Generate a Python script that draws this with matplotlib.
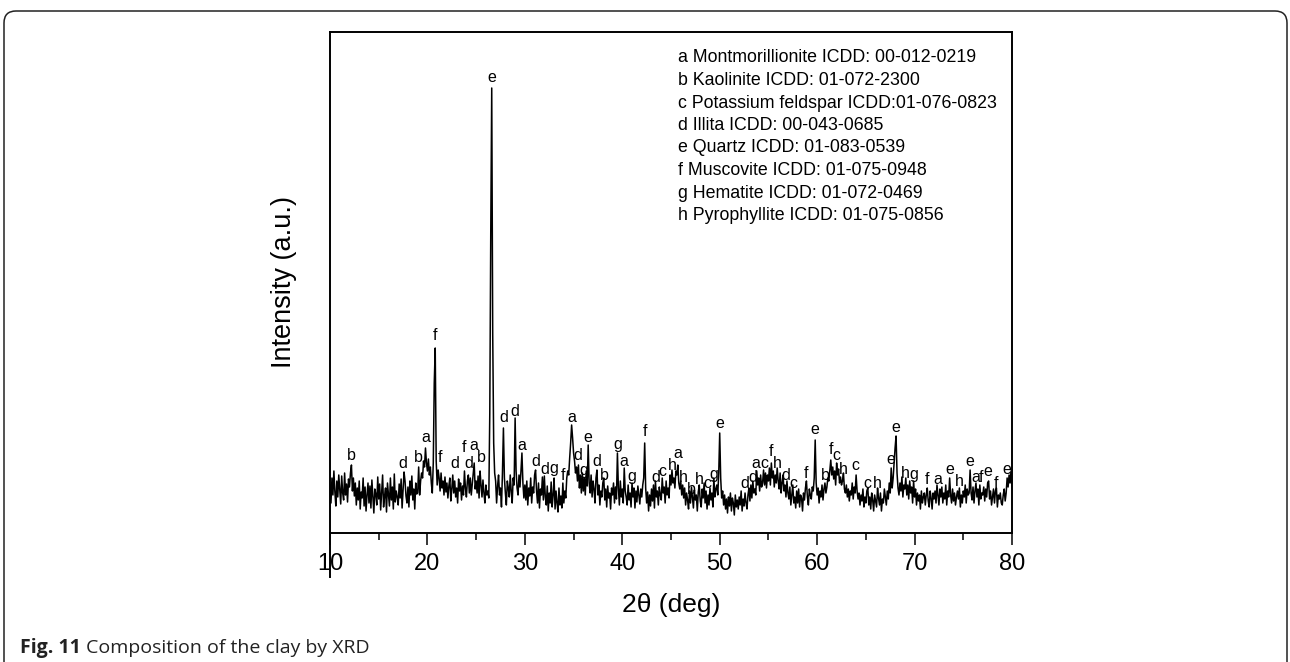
import matplotlib
matplotlib.use("Agg")
import matplotlib.pyplot as plt
from matplotlib.patches import FancyBboxPatch
import numpy as np

plt.rcParams['font.family'] = ['Liberation Sans', 'DejaVu Sans']

# 2theta from 10.0 to 80.0 in 0.1 deg steps, intensity (a.u.)
two_theta = np.round(np.arange(100, 801) / 10.0, 1)
intensity = [
    48, 30, 55, 38, 62, 41, 27, 52, 36, 58,      # 10
    44, 29, 57, 40, 33, 60, 38, 49, 31, 54,      # 11
    46, 60, 68, 42, 55, 37, 50, 28, 45, 33,      # 12
    52, 24, 41, 35, 55, 27, 46, 22, 38, 50,      # 13
    30, 47, 25, 53, 36, 20, 44, 39, 28, 56,      # 14
    34, 49, 23, 40, 58, 26, 37, 45, 21, 50,      # 15
    38, 27, 55, 33, 46, 24, 59, 31, 42, 36,      # 16
    28, 49, 35, 54, 25, 43, 61, 52, 37, 30,      # 17
    46, 26, 52, 38, 57, 33, 44, 24, 50, 39,      # 18
    40, 66, 38, 52, 60, 55, 72, 66, 85, 70,      # 19
    62, 74, 58, 66, 50, 40, 70, 150, 185, 72,    # 20
    48, 63, 55, 42, 60, 45, 52, 38, 56, 41,      # 21
    50, 35, 47, 55, 32, 44, 58, 40, 52, 36,      # 22
    45, 30, 54, 42, 50, 33, 47, 38, 62, 45,      # 23
    36, 52, 58, 40, 55, 38, 49, 60, 70, 44,      # 24
    52, 40, 57, 35, 62, 48, 36, 53, 40, 30,      # 25
    48, 38, 42, 35, 120, 300, 445, 200, 90, 60,  # 26
    52, 30, 47, 58, 38, 45, 26, 60, 105, 55,     # 27
    40, 28, 52, 45, 36, 58, 42, 30, 55, 48,      # 28
    115, 62, 45, 38, 58, 46, 62, 80, 50, 35,     # 29
    48, 33, 52, 28, 45, 37, 55, 30, 46, 40,      # 30
    58, 63, 42, 30, 50, 25, 44, 38, 56, 33,      # 31
    57, 36, 28, 47, 22, 40, 30, 51, 26, 38,      # 32
    55, 24, 42, 30, 21, 45, 28, 37, 25, 50,      # 33
    30, 42, 35, 55, 62, 58, 75, 90, 108, 95,     # 34
    80, 72, 60, 66, 52, 68, 45, 58, 40, 60,      # 35
    42, 55, 38, 62, 47, 88, 50, 40, 58, 36,      # 36
    52, 44, 30, 55, 63, 38, 48, 28, 42, 36,      # 37
    50, 55, 33, 44, 26, 47, 35, 40, 24, 45,      # 38
    38, 50, 30, 46, 34, 80, 45, 28, 52, 36,      # 39
    44, 30, 65, 42, 36, 28, 48, 33, 40, 26,      # 40
    50, 36, 45, 25, 42, 31, 47, 38, 29, 44,      # 41
    36, 48, 55, 90, 45, 30, 41, 22, 38, 27,      # 42
    44, 32, 48, 25, 52, 36, 42, 28, 46, 38,      # 43
    33, 55, 40, 46, 30, 52, 38, 45, 35, 58,      # 44
    48, 63, 50, 55, 45, 62, 58, 68, 50, 44,      # 45
    52, 38, 48, 35, 45, 28, 40, 33, 24, 42,      # 46
    30, 46, 36, 25, 43, 33, 38, 22, 41, 48,      # 47
    32, 26, 44, 35, 50, 30, 42, 24, 38, 28,      # 48
    45, 33, 40, 26, 55, 36, 44, 48, 38, 60,      # 49
    100, 55, 35, 42, 28, 38, 24, 34, 20, 36,     # 50
    27, 40, 22, 35, 30, 18, 38, 26, 33, 24,      # 51
    36, 28, 42, 22, 34, 27, 40, 30, 24, 38,      # 52
    45, 32, 48, 35, 52, 40, 44, 38, 62, 48,      # 53
    55, 42, 58, 46, 50, 63, 48, 60, 45, 58,      # 54
    52, 65, 48, 70, 55, 62, 46, 58, 50, 65,      # 55
    52, 44, 60, 40, 50, 58, 42, 48, 36, 52,      # 56
    40, 34, 46, 28, 38, 48, 30, 36, 25, 42,      # 57
    30, 44, 26, 38, 35, 22, 40, 33, 45, 52,      # 58
    36, 28, 44, 38, 34, 46, 42, 55, 93, 50,      # 59
    38, 45, 30, 42, 36, 48, 33, 44, 50, 40,      # 60
    46, 55, 52, 62, 73, 58, 66, 54, 62, 48,      # 61
    70, 58, 64, 50, 56, 48, 52, 60, 44, 40,      # 62
    48, 36, 44, 32, 42, 38, 50, 34, 46, 40,      # 63
    58, 42, 34, 40, 28, 38, 32, 44, 26, 36,      # 64
    30, 42, 45, 28, 36, 24, 40, 33, 22, 38,      # 65
    32, 26, 45, 35, 28, 40, 22, 34, 30, 44,      # 66
    36, 28, 42, 34, 50, 40, 65, 45, 55, 70,      # 67
    85, 97, 60, 45, 38, 50, 42, 56, 36, 48,      # 68
    44, 55, 38, 48, 34, 52, 40, 46, 30, 52,      # 69
    36, 44, 28, 40, 32, 38, 24, 42, 30, 36,      # 70
    40, 28, 38, 45, 32, 26, 42, 35, 24, 40,      # 71
    34, 42, 30, 48, 38, 28, 44, 36, 46, 30,      # 72
    40, 34, 48, 28, 42, 36, 55, 38, 30, 44,      # 73
    32, 40, 28, 36, 42, 34, 45, 26, 38, 30,      # 74
    42, 36, 48, 30, 44, 38, 40, 63, 40, 33,      # 75
    46, 30, 42, 50, 36, 44, 28, 48, 34, 40,      # 76
    38, 46, 32, 44, 36, 50, 52, 34, 42, 28,      # 77
    36, 44, 30, 42, 45, 26, 38, 34, 40, 30,      # 78
    28, 38, 44, 32, 40, 55, 46, 58, 50, 62,      # 79
    45,                                          # 80
]

# phase letters over the peaks
peak_letters = ['b', 'd', 'b', 'a', 'f', 'f', 'd', 'f', 'd', 'a', 'b',
                'e', 'd', 'd', 'a', 'd', 'd', 'g', 'f', 'a', 'd', 'g',
                'e', 'd', 'b', 'g', 'a', 'g', 'f', 'd', 'c', 'h', 'a',
                'h', 'b', 'h', 'c', 'g', 'e', 'd', 'd', 'a', 'c', 'f',
                'h', 'd', 'c', 'f', 'e', 'b', 'f', 'c', 'h', 'c', 'c',
                'h', 'e', 'e', 'h', 'g', 'f', 'a', 'e', 'h', 'e', 'a',
                'f', 'e', 'f', 'e']
peak_pos = [12.2, 17.5, 19.1, 19.8, 20.75, 21.3, 22.8, 23.8, 24.2, 24.8, 25.5,
            26.6, 27.8, 29.0, 29.7, 31.1, 32.0, 33.0, 33.9, 34.8, 35.4, 36.0,
            36.5, 37.4, 38.2, 39.5, 40.2, 41.0, 42.3, 43.4, 44.1, 45.1, 45.7,
            46.3, 47.1, 47.95, 48.7, 49.4, 50.0, 52.6, 53.4, 53.7, 54.6, 55.3,
            55.95, 56.8, 57.6, 58.9, 59.8, 60.8, 61.4, 62.0, 62.7, 63.9, 65.2,
            66.2, 67.6, 68.1, 69.1, 69.9, 71.3, 72.4, 73.6, 74.6, 75.7, 76.3,
            76.85, 77.5, 78.4, 79.5]
peak_lab_h = [77, 69, 76, 95, 198, 75, 70, 85, 70, 87, 75,
              455, 115, 121, 87, 71, 64, 64, 58, 116, 77, 62,
              95, 71, 58, 88, 71, 56, 102, 55, 61, 67, 79,
              55, 43, 53, 50, 59, 109, 50, 56, 70, 70, 82,
              70, 58, 50, 60, 103, 58, 83, 78, 63, 68, 50,
              50, 73, 106, 59, 59, 53, 54, 63, 51, 71, 56,
              56, 61, 50, 63]

phase_keys = ['a', 'b', 'c', 'd', 'e', 'f', 'g', 'h']
phase_names = ['Montmorillionite ICDD: 00-012-0219',
               'Kaolinite ICDD: 01-072-2300',
               'Potassium feldspar ICDD:01-076-0823',
               'Illita ICDD: 00-043-0685',
               'Quartz ICDD: 01-083-0539',
               'Muscovite ICDD: 01-075-0948',
               'Hematite ICDD: 01-072-0469',
               'Pyrophyllite ICDD: 01-075-0856']

x_ticks = [10, 20, 30, 40, 50, 60, 70, 80]

fig = plt.figure(figsize=(12.9, 6.62), dpi=100)

# rounded frame around the figure panel (open at the bottom edge)
frame = FancyBboxPatch((4, -40), 1283, 691, boxstyle='round,pad=0,rounding_size=12',
                       transform=None, facecolor='none', edgecolor='#222222', linewidth=1.1)
fig.patches.append(frame)

ax = fig.add_axes([330 / 1290, 129 / 662, 682 / 1290, 501 / 662])
ax.plot(two_theta, intensity, color='black', linewidth=1.1)

for k, x, h in zip(peak_letters, peak_pos, peak_lab_h):
    ax.text(x, h, k, ha='center', va='center', fontsize=11.5)

ax.set_xlim(10, 80)
ax.set_ylim(0, 501)
ax.set_xticks(x_ticks)
ax.set_xticks([15, 25, 35, 45, 55, 65, 75], minor=True)
ax.set_yticks([])
ax.tick_params(axis='x', which='major', direction='out', length=8.5, width=1.1,
               labelsize=17, pad=6)
ax.tick_params(axis='x', which='minor', direction='out', length=5, width=1.1)
for s in ax.spines.values():
    s.set_linewidth(1.4)

# left spine runs down through the first tick label
ax.plot([0, 0], [0, -44 / 501], transform=ax.transAxes, color='black',
        linewidth=1.4, clip_on=False)

ax.set_xlabel('2θ (deg)', fontsize=19, labelpad=13)
ax.set_ylabel('Intensity (a.u.)', fontsize=19.5, labelpad=24)

for i, (k, name) in enumerate(zip(phase_keys, phase_names)):
    fig.text(678 / 1290, 1 - (58 + 22.5 * i) / 662, k + ' ' + name,
             ha='left', va='center', fontsize=12.8)

cap1 = fig.text(20 / 1290, 1 - 648 / 662, 'Fig. 11', fontsize=14, fontweight='bold',
                family='Open Sans', va='center', color='#222222')
r = fig.canvas.get_renderer()
x_end = cap1.get_window_extent(renderer=r).x1
fig.text((x_end + 5) / 1290, 1 - 648 / 662, 'Composition of the clay by XRD',
         fontsize=14, family='Open Sans', va='center', color='#222222')

fig.savefig('out.png', dpi=100)
